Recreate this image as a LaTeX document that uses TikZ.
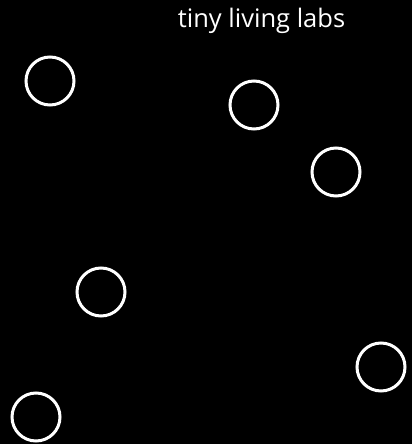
\documentclass[tikz,border=0pt]{standalone}
\usepackage{fontspec}
\setmainfont{Open Sans}
\begin{document}
\begin{tikzpicture}[x=1pt,y=-1pt,
  ring/.style={circle,draw=white,line width=3pt,minimum size=48pt,inner sep=0pt},
  label/.style={text=white,font=\fontsize{25.5}{29}\selectfont,inner sep=0pt,anchor=base}]
\fill[black] (0,0) rectangle (412,444);
\useasboundingbox (0,0) rectangle (412,444);
\node[label] (title) at (261.5,28) {tiny living labs};
\node[ring] (c1) at (50,81) {};
\node[ring] (c2) at (254,105) {};
\node[ring] (c3) at (336,172) {};
\node[ring] (c4) at (101,292) {};
\node[ring] (c5) at (381,367) {};
\node[ring] (c6) at (36,417) {};
\end{tikzpicture}
\end{document}
